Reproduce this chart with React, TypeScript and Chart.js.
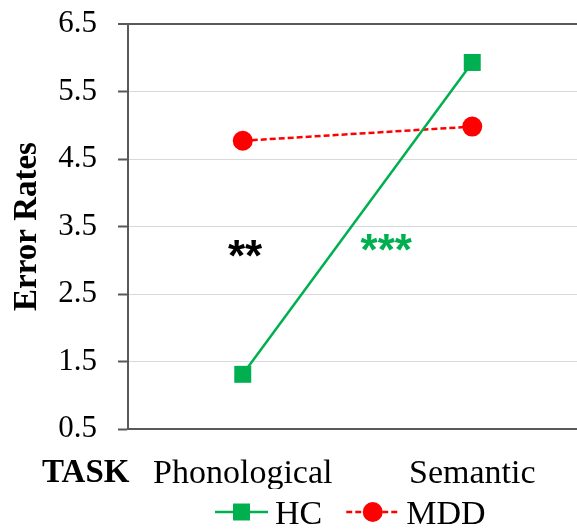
import React, { useEffect, useRef } from 'react';
import { Chart, registerables } from 'chart.js';

Chart.register(...registerables);

// ---- data ----
const categories = ['Phonological', 'Semantic'];
const hcValues = [1.31, 5.93];
const mddValues = [4.77, 4.98];
const seriesNames = ['HC', 'MDD'];
const yTicks = [0.5, 1.5, 2.5, 3.5, 4.5, 5.5, 6.5];
const annotationTexts = ['**', '***'];
const annotationX = [0.01, 0.625]; // in category-index units
const annotationY = [3.17, 3.27];
const xAxisCaption = 'TASK';
const yAxisTitle = 'Error Rates';

// ---- styles ----
const GREEN = '#00B050';
const RED = '#FF0000';
const AXIS = '#595959';
const GRID = '#D9D9D9';
const SERIF = '"Liberation Serif", "Times New Roman", serif';
const SANS = '"Liberation Sans", Arial, sans-serif';
const annotationColors = ['#000000', GREEN];

const annotationPlugin = {
  id: 'annotations',
  afterDatasetsDraw(chart: any) {
    const { ctx, scales } = chart;
    ctx.save();
    ctx.font = `bold 44px ${SANS}`;
    ctx.textAlign = 'center';
    ctx.textBaseline = 'alphabetic';
    annotationTexts.forEach((t, i) => {
      const x = scales.x.getPixelForValue(annotationX[i]);
      const y = scales.y.getPixelForValue(annotationY[i]);
      const m = ctx.measureText(t);
      const base = y - (m.actualBoundingBoxDescent - m.actualBoundingBoxAscent) / 2;
      ctx.fillStyle = annotationColors[i];
      ctx.fillText(t, x, base);
    });
    ctx.restore();
  },
};

const extrasPlugin = {
  id: 'extras',
  afterDraw(chart: any) {
    const { ctx, chartArea } = chart;
    ctx.save();
    // TASK caption
    ctx.font = `bold 33px ${SERIF}`;
    ctx.fillStyle = '#000';
    ctx.textAlign = 'left';
    ctx.textBaseline = 'alphabetic';
    ctx.fillText(xAxisCaption, 42, chartArea.bottom + 53);

    // legend
    const lineW = 53;
    const textGap = 7;
    const itemGap = 24;
    const cy = chartArea.bottom + 83;
    let x = chartArea.left + 87;
    ctx.font = `34px ${SERIF}`;
    chart.data.datasets.forEach((ds: any) => {
      ctx.save();
      ctx.strokeStyle = ds.borderColor;
      ctx.lineWidth = ds.borderWidth;
      ctx.setLineDash(ds.borderDash || []);
      ctx.beginPath();
      ctx.moveTo(x, cy);
      ctx.lineTo(x + lineW, cy);
      ctx.stroke();
      ctx.setLineDash([]);
      ctx.fillStyle = ds.pointBackgroundColor;
      const mx = x + lineW / 2;
      if (ds.pointStyle === 'rect') {
        const s = Math.SQRT1_2 * ds.pointRadius;
        ctx.fillRect(mx - s, cy - s, 2 * s, 2 * s);
      } else {
        ctx.beginPath();
        ctx.arc(mx, cy, ds.pointRadius, 0, Math.PI * 2);
        ctx.fill();
      }
      ctx.restore();
      ctx.fillStyle = '#000';
      ctx.textBaseline = 'alphabetic';
      ctx.fillText(ds.label, x + lineW + textGap, cy + 12);
      x += lineW + textGap + ctx.measureText(ds.label).width + itemGap;
    });
    ctx.restore();
  },
};

export default function App() {
  const ref = useRef<HTMLCanvasElement | null>(null);

  useEffect(() => {
    if (!ref.current) return;
    const chart = new Chart(ref.current, {
      type: 'line',
      data: {
        labels: categories,
        datasets: [
          {
            label: seriesNames[0],
            data: hcValues,
            borderColor: GREEN,
            backgroundColor: GREEN,
            pointBackgroundColor: GREEN,
            pointBorderColor: GREEN,
            pointBorderWidth: 0,
            borderWidth: 2.5,
            pointStyle: 'rect',
            pointRadius: 12,
            pointHoverRadius: 12,
            tension: 0,
          },
          {
            label: seriesNames[1],
            data: mddValues,
            borderColor: RED,
            backgroundColor: RED,
            pointBackgroundColor: RED,
            pointBorderColor: RED,
            pointBorderWidth: 0,
            borderWidth: 2.5,
            borderDash: [6, 3],
            pointStyle: 'circle',
            pointRadius: 10,
            pointHoverRadius: 10,
            tension: 0,
          },
        ],
      },
      options: {
        responsive: false,
        devicePixelRatio: 1,
        animation: false,
        events: [],
        layout: { padding: { top: 24, left: 0, right: 2, bottom: 40 } },
        plugins: { legend: { display: false }, tooltip: { enabled: false } },
        scales: {
          x: {
            type: 'category',
            offset: true,
            grid: { display: false },
            border: { display: true, color: AXIS, width: 2 },
            ticks: {
              color: '#000',
              font: { family: SERIF, size: 34 },
              padding: 17,
              maxRotation: 0,
            },
            afterFit: (scale: any) => {
              scale.height = 60;
              scale.paddingLeft = 0;
              scale.paddingRight = 0;
            },
          },
          y: {
            type: 'linear',
            min: 0.5,
            max: 6.5,
            afterBuildTicks: (scale: any) => {
              scale.ticks = yTicks.map((v) => ({ value: v }));
            },
            afterFit: (scale: any) => {
              scale.width = 128;
              scale.paddingTop = 0;
              scale.paddingBottom = 0;
            },
            grid: {
              color: (c: any) => (c.tick && c.tick.value === 6.5 ? AXIS : GRID),
              lineWidth: (c: any) => (c.tick && c.tick.value === 6.5 ? 2 : 1),
              tickColor: AXIS,
              tickWidth: 2,
              tickLength: 10,
            },
            border: { display: true, color: AXIS, width: 2 },
            ticks: {
              color: '#000',
              font: { family: SERIF, size: 31 },
              padding: 21,
              callback: (v: any) => Number(v).toFixed(1),
            },
            title: {
              display: true,
              text: yAxisTitle,
              color: '#000',
              font: { family: SERIF, size: 33, weight: 'bold' },
              padding: { top: 8, bottom: 0 },
            },
          },
        },
      },
      plugins: [annotationPlugin, extrasPlugin],
    });
    return () => chart.destroy();
  }, []);

  return (
    <div
      style={{
        position: 'fixed',
        left: 0,
        top: 0,
        width: 577,
        height: 529,
        overflow: 'hidden',
        background: '#fff',
      }}
    >
      <canvas ref={ref} width={599} height={529} style={{ display: 'block', width: 599, height: 529 }} />
    </div>
  );
}
